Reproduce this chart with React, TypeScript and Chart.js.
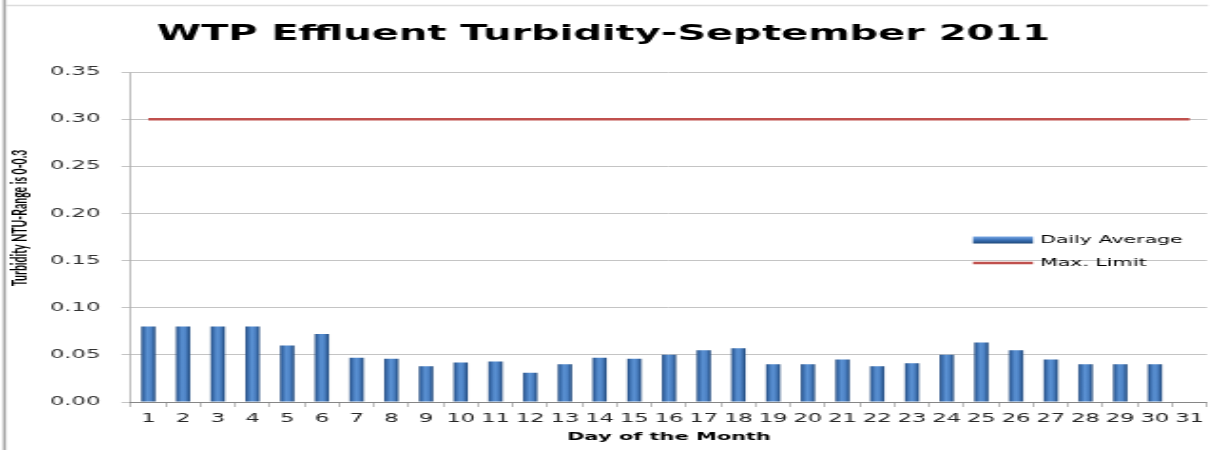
import React, { useEffect, useRef } from 'react';
import { Chart, registerables } from 'chart.js';

Chart.register(...registerables);

// ---------- data ----------
const CHART_TITLE = 'WTP Effluent Turbidity-September 2011';
const X_TITLE = 'Day of the Month';
const Y_TITLE = 'Turbidity NTU-Range is 0-0.3';

const DAYS = [
  '1', '2', '3', '4', '5', '6', '7', '8', '9', '10',
  '11', '12', '13', '14', '15', '16', '17', '18', '19', '20',
  '21', '22', '23', '24', '25', '26', '27', '28', '29', '30', '31',
];

const DAILY_AVERAGE = [
  0.080, 0.080, 0.080, 0.080, 0.060, 0.072, 0.047, 0.046, 0.038, 0.042,
  0.043, 0.031, 0.040, 0.047, 0.046, 0.050, 0.055, 0.057, 0.040, 0.040,
  0.045, 0.038, 0.041, 0.050, 0.063, 0.055, 0.045, 0.040, 0.040, 0.040, null,
];

const MAX_LIMIT = [
  0.3, 0.3, 0.3, 0.3, 0.3, 0.3, 0.3, 0.3, 0.3, 0.3,
  0.3, 0.3, 0.3, 0.3, 0.3, 0.3, 0.3, 0.3, 0.3, 0.3,
  0.3, 0.3, 0.3, 0.3, 0.3, 0.3, 0.3, 0.3, 0.3, 0.3, 0.3,
];

const SERIES_NAMES = ['Daily Average', 'Max. Limit'];
const Y_MIN = 0;
const Y_MAX = 0.35;
const Y_STEP = 0.05;

// ---------- layout (canvas is drawn narrow, then stretched horizontally) ----------
const PAGE_W = 1217;
const PAGE_H = 450;
const CANVAS_W = 640;
const STRETCH = PAGE_W / CANVAS_W;
const sx = (screenX: number) => screenX / STRETCH;

const barFill = (c: any) => {
  const el = c.element;
  if (!el || !isFinite(el.x) || !isFinite(el.width)) return '#4f81bd';
  const x0 = el.x - el.width / 2;
  const x1 = el.x + el.width / 2;
  const g = c.chart.ctx.createLinearGradient(x0, 0, x1, 0);
  g.addColorStop(0, '#22497d');
  g.addColorStop(0.18, '#3a6cab');
  g.addColorStop(0.45, '#5b92d4');
  g.addColorStop(0.7, '#4b80c2');
  g.addColorStop(1, '#1e4678');
  return g;
};

const framePlugin = {
  id: 'frame',
  beforeDraw(chart: any) {
    const { ctx } = chart;
    ctx.save();
    ctx.fillStyle = '#ffffff';
    ctx.fillRect(0, 0, chart.width, chart.height);
    ctx.fillStyle = '#a3a3a3';
    ctx.fillRect(sx(3), 0, sx(3), chart.height);
    ctx.strokeStyle = '#dcdcdc';
    ctx.lineWidth = 1.5;
    ctx.beginPath();
    ctx.moveTo(sx(6), 5.5);
    ctx.lineTo(sx(1208), 5.5);
    ctx.stroke();
    ctx.restore();
  },
};

const yTitlePlugin = {
  id: 'yTitle',
  afterDraw(chart: any) {
    const { ctx } = chart;
    ctx.save();
    ctx.translate(sx(21), 218);
    ctx.rotate(-Math.PI / 2);
    ctx.fillStyle = '#000000';
    ctx.font = 'bold 10.5px Lato';
    ctx.textAlign = 'center';
    ctx.textBaseline = 'middle';
    ctx.fillText(Y_TITLE, 0, 0);
    ctx.restore();
  },
};

const legendPlugin = {
  id: 'sideLegend',
  afterDraw(chart: any) {
    const { ctx } = chart;
    const ds = chart.data.datasets;
    const keyX = sx(973);
    const keyW = sx(1033) - sx(973);
    const textX = sx(1040);
    const y1 = 240;
    const y2 = 263;
    ctx.save();
    const g = ctx.createLinearGradient(0, y1 - 3.5, 0, y1 + 3.5);
    g.addColorStop(0, '#7aa7e3');
    g.addColorStop(0.45, '#4077bd');
    g.addColorStop(1, '#1d4778');
    ctx.fillStyle = g;
    ctx.fillRect(keyX, y1 - 3.5, keyW, 7);
    ctx.strokeStyle = ds[1].borderColor;
    ctx.lineWidth = 2.5;
    ctx.beginPath();
    ctx.moveTo(keyX, y2);
    ctx.lineTo(keyX + keyW, y2);
    ctx.stroke();
    ctx.fillStyle = '#000000';
    ctx.font = '10.8px "DejaVu Sans"';
    ctx.textAlign = 'left';
    ctx.textBaseline = 'middle';
    ctx.fillText(ds[0].label, textX, y1);
    ctx.fillText(ds[1].label, textX, y2);
    ctx.restore();
  },
};

export default function App() {
  const canvasRef = useRef<HTMLCanvasElement | null>(null);

  useEffect(() => {
    const canvas = canvasRef.current;
    if (!canvas) return;
    const chart = new Chart(canvas, {
      type: 'bar',
      data: {
        labels: DAYS,
        datasets: [
          {
            type: 'bar',
            label: SERIES_NAMES[0],
            data: DAILY_AVERAGE,
            backgroundColor: barFill,
            borderWidth: 0,
            categoryPercentage: 1,
            barPercentage: 0.41,
            order: 2,
          },
          {
            type: 'line',
            label: SERIES_NAMES[1],
            data: MAX_LIMIT,
            borderColor: '#c0504d',
            backgroundColor: '#c0504d',
            borderWidth: 2.5,
            pointRadius: 0,
            fill: false,
            order: 1,
          },
        ] as any,
      },
      options: {
        responsive: false,
        animation: false,
        devicePixelRatio: 1,
        layout: { padding: { left: 0, right: sx(PAGE_W - 1207), top: 0, bottom: 0 } },
        plugins: {
          legend: { display: false },
          tooltip: { enabled: false },
          title: {
            display: true,
            text: CHART_TITLE,
            color: '#000000',
            font: { family: '"DejaVu Sans"', size: 21, weight: 'bold' },
            padding: { top: 21.5, bottom: 25.3 },
          },
        },
        scales: {
          x: {
            type: 'category',
            offset: true,
            afterFit: (s: any) => { s.height = 48; },
            grid: {
              offset: true,
              drawOnChartArea: false,
              drawTicks: true,
              tickLength: 5,
              color: '#868686',
              lineWidth: 0.55,
            },
            border: { display: true, color: '#868686', width: 1 },
            ticks: {
              autoSkip: false,
              maxRotation: 0,
              minRotation: 0,
              padding: 5,
              color: '#262626',
              font: { family: '"DejaVu Sans"', size: 12 },
            },
            title: {
              display: true,
              text: X_TITLE,
              color: '#000000',
              font: { family: '"DejaVu Sans"', size: 11, weight: 'bold' },
              padding: { top: 0, bottom: 6 },
            },
          },
          y: {
            type: 'linear',
            min: Y_MIN,
            max: Y_MAX,
            afterFit: (s: any) => { s.width = sx(131); },
            grid: {
              color: '#c4c4c4',
              lineWidth: 1,
              drawTicks: true,
              tickLength: 5,
            },
            border: { display: true, color: '#868686', width: 0.55 },
            ticks: {
              stepSize: Y_STEP,
              padding: 11,
              color: '#333333',
              font: { family: '"DejaVu Sans"', size: 12 },
              callback: (v: any) => Number(v).toFixed(2),
            },
            title: { display: false },
          },
        },
      } as any,
      plugins: [framePlugin, yTitlePlugin, legendPlugin],
    });
    chart.update();
    return () => chart.destroy();
  }, []);

  return (
    <div style={{ position: 'fixed', left: 0, top: 0, width: PAGE_W, height: PAGE_H, background: '#ffffff' }}>
      <canvas
        ref={canvasRef}
        width={CANVAS_W}
        height={PAGE_H}
        style={{ width: PAGE_W + 'px', height: PAGE_H + 'px', display: 'block' }}
      />
    </div>
  );
}
